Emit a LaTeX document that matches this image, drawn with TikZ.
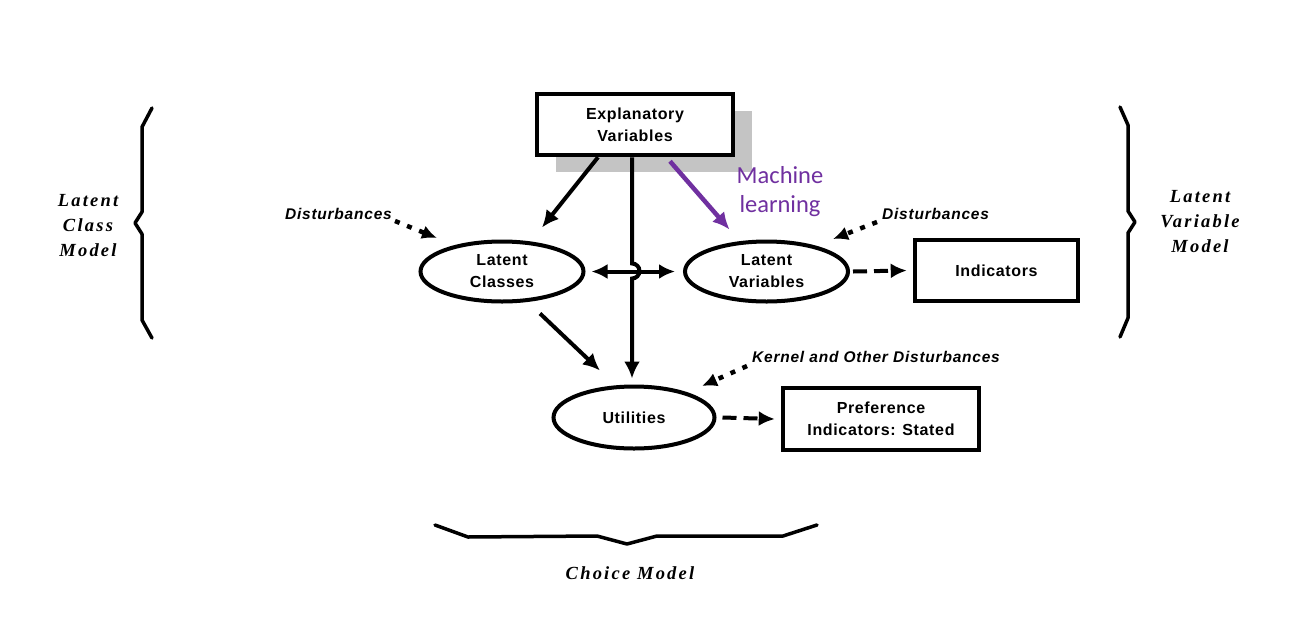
\documentclass[tikz,border=0pt]{standalone}
\usepackage{fontspec}
\usetikzlibrary{shapes.geometric,arrows.meta,shadows}
\newfontfamily\labfont[LetterSpace=4]{Liberation Sans}
\newfontfamily\distfont[LetterSpace=5]{Liberation Sans}
\newfontfamily\bracefont[LetterSpace=12]{Liberation Serif}
\newfontfamily\mlfont{Carlito}
\definecolor{mlpurple}{HTML}{7030A0}
\begin{document}
\begin{tikzpicture}[x=1pt,y=-1pt,
  boxnode/.style={draw,line width=4.5pt,rectangle,inner sep=0pt,align=center,
    font=\labfont\bfseries\fontsize{16}{22}\selectfont},
  ellnode/.style={draw,line width=4pt,ellipse,inner sep=0pt,align=center,
    minimum width=163pt,minimum height=60pt,
    font=\labfont\bfseries\fontsize{16}{22}\selectfont},
  distnode/.style={inner sep=0pt,font=\distfont\bfseries\itshape\fontsize{15.5}{18}\selectfont},
  bracelabel/.style={inner sep=0pt,align=center,font=\bracefont\bfseries\itshape\fontsize{18.5}{25}\selectfont},
  bracepath/.style={line width=3.5pt,line join=round,line cap=round},
  solidarrow/.style={line width=4pt,-{Latex[length=17pt,width=16pt]}},
  dblarrow/.style={line width=4pt,{Latex[length=16pt,width=15pt]}-{Latex[length=16pt,width=15pt]}},
  dasharrow/.style={line width=4pt,dash pattern=on 14pt off 7pt,-{Latex[length=16pt,width=15pt]}},
  dotarrow/.style={line width=4.5pt,dash pattern=on 5pt off 8pt,-{Latex[length=15pt,width=14pt]}},
]
\useasboundingbox[fill=white] (0,0) rectangle (1294,622);

% nodes
\node[boxnode,minimum width=196pt,minimum height=61pt,
  drop shadow={shadow xshift=19pt,shadow yshift=-17pt,fill=black!23,opacity=1},fill=white]
  (expl) at (635,124.5) {Explanatory\\Variables};
\node[ellnode] (lc) at (502,271.5) {Latent\\Classes};
\node[ellnode] (lv) at (766.5,271.5) {Latent\\Variables};
\node[boxnode,minimum width=163pt,minimum height=61pt] (ind) at (996.5,270.5) {Indicators};
\node[ellnode,minimum width=161pt,minimum height=62pt] (ut) at (634,417.5) {Utilities};
\node[boxnode,minimum width=196pt,minimum height=62pt] (pref) at (881,419) {Preference\\Indicators: Stated};

\node[distnode,anchor=east] (dl) at (392,214) {Disturbances};
\node[distnode,anchor=west] (dr) at (882,214) {Disturbances};
\node[distnode,anchor=west] (kd) at (752,357) {Kernel and Other Disturbances};

\node[inner sep=0pt,align=center,text=mlpurple,font=\mlfont\fontsize{24.5}{29}\selectfont]
  (ml) at (780,192) {Machine\\learning};

% connectors
\draw[solidarrow] ([xshift=-37pt]expl.south) -- ([xshift=40pt,yshift=12pt]lc.north);
\coordinate (vtop) at ([xshift=-3pt]expl.south);
\coordinate (vbot) at ([xshift=-2pt,yshift=6pt]ut.north);
\draw[solidarrow] (vtop) -- ([yshift=8pt]vtop |- lc.center)
  arc[start angle=90,end angle=-90,radius=7.5pt] -- (vbot);
\draw[dblarrow] ([xshift=6pt]lc.east) -- ([xshift=-8pt]lv.west);
\draw[line width=4.5pt,mlpurple,-{Latex[length=17pt,width=16pt]}]
  ([xshift=35pt,yshift=-4pt]expl.south) -- ([xshift=-37pt,yshift=10pt]lv.north);
\draw[solidarrow] ([xshift=38pt,yshift=-10pt]lc.south) -- ([xshift=-34pt,yshift=14pt]ut.north);
\draw[dasharrow] ([xshift=3pt]lv.east) -- ([xshift=-6pt]ind.west);
\draw[dasharrow] ([xshift=6pt]ut.east) -- ([xshift=-6pt]pref.west);

\draw[dotarrow] ([xshift=3pt,yshift=-7pt]dl.east) -- ([xshift=-65pt,yshift=33.5pt]lc.center);
\draw[dotarrow] ([xshift=-5pt,yshift=-8pt]dr.west) -- ([xshift=66.5pt,yshift=32.5pt]lv.center);
\draw[dotarrow] ([xshift=-5pt,yshift=-9pt]kd.west) -- ([xshift=68pt,yshift=31.5pt]ut.center);

% braces
\draw[bracepath] (152,108) -- (142,127) -- (142,212) -- (135,223) -- (142,234) -- (142,320) -- (152,338);
\draw[bracepath] (1120,107) -- (1128,125) -- (1128,211) -- (1135,222) -- (1128,233) -- (1128,318) -- (1120,337);
\draw[bracepath] (435,525) -- (468,537) -- (597,536) -- (627,544) -- (657,536) -- (783,536) -- (817,525);

\node[bracelabel] (lcm) at (88,226) {Latent\\Class\\Model};
\node[bracelabel] (lvm) at (1200,222) {Latent\\Variable\\Model};
\node[bracelabel] (cm) at (630,573) {Choice Model};
\end{tikzpicture}
\end{document}
